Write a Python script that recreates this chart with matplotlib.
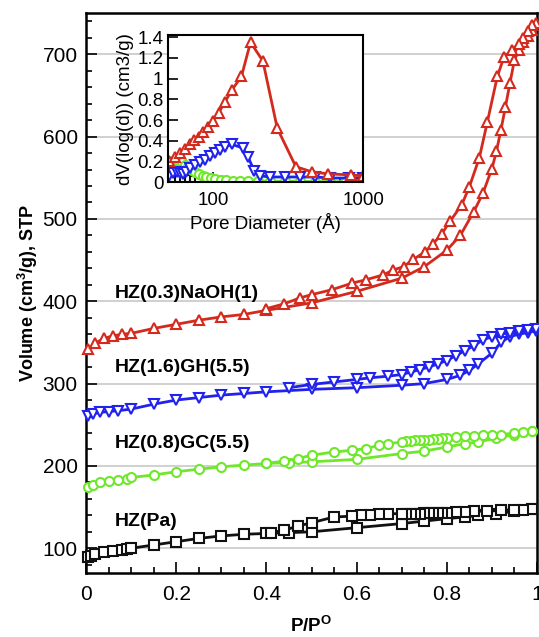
import matplotlib
matplotlib.use('Agg')
import matplotlib.pyplot as plt
from matplotlib.ticker import MultipleLocator

plt.rcParams['font.family'] = ['Liberation Sans', 'DejaVu Sans']

# isotherms (P/P0, volume cm3/g STP)
red_ads_x = [0.005, 0.02, 0.04, 0.06, 0.08, 0.10, 0.15, 0.20, 0.25, 0.30, 0.35, 0.40, 0.50,
             0.60, 0.70, 0.75, 0.80, 0.83, 0.86, 0.88, 0.90, 0.91, 0.92, 0.93, 0.94, 0.95,
             0.96, 0.97, 0.98, 0.99, 0.997]
red_ads_y = [342, 349, 355, 358, 360, 361, 367, 372, 377, 381, 384, 389, 398,
             412, 428, 442, 462, 480, 509, 531, 561, 582, 608, 636, 665, 693,
             705, 715, 722, 730, 738]
red_des_x = [0.99, 0.98, 0.97, 0.96, 0.945, 0.927, 0.912, 0.89, 0.872, 0.85, 0.833, 0.807,
             0.789, 0.77, 0.752, 0.726, 0.704, 0.681, 0.659, 0.62, 0.59, 0.545, 0.5, 0.474,
             0.44, 0.40]
red_des_y = [735, 728, 720, 713, 705, 697, 673, 618, 574, 539, 517, 497,
             482, 470, 460, 451, 442, 438, 432, 426, 422, 414, 408, 404,
             397, 391]

blue_ads_x = [0.005, 0.015, 0.03, 0.05, 0.07, 0.10, 0.15, 0.20, 0.25, 0.30, 0.35, 0.40, 0.50,
              0.60, 0.70, 0.75, 0.80, 0.83, 0.85, 0.87, 0.90, 0.92, 0.94, 0.96, 0.98, 0.997]
blue_ads_y = [261, 263, 265, 266, 267, 269, 275, 280, 283, 286, 288, 290, 293,
              295, 298, 300, 305, 310, 316, 324, 337, 350, 357, 360, 362, 364]
blue_des_x = [0.997, 0.98, 0.96, 0.94, 0.92, 0.90, 0.88, 0.86, 0.84, 0.82, 0.80, 0.78, 0.76,
              0.74, 0.72, 0.70, 0.67, 0.63, 0.60, 0.55, 0.50, 0.45]
blue_des_y = [366, 365, 364, 362, 360, 357, 353, 346, 340, 334, 328, 324, 320,
              317, 314, 311, 309, 307, 305, 302, 299, 295]

green_ads_x = [0.005, 0.015, 0.03, 0.05, 0.07, 0.09, 0.10, 0.15, 0.20, 0.25, 0.30, 0.35, 0.40,
               0.45, 0.50, 0.60, 0.70, 0.75, 0.80, 0.84, 0.87, 0.91, 0.95, 0.99]
green_ads_y = [175, 177, 180, 182, 183, 184, 186, 189, 193, 196, 199, 201, 203,
               204, 205, 208, 215, 218, 223, 227, 229, 234, 238, 242]
green_des_x = [0.99, 0.97, 0.95, 0.92, 0.90, 0.88, 0.86, 0.84, 0.82, 0.80, 0.79, 0.78, 0.77,
               0.76, 0.75, 0.74, 0.73, 0.72, 0.71, 0.70, 0.67, 0.65, 0.62, 0.59, 0.55, 0.50,
               0.47, 0.44, 0.40]
green_des_y = [242, 241, 240, 238, 237, 237, 236, 236, 235, 234, 234, 233, 233,
               232, 232, 231, 231, 230, 230, 229, 227, 225, 221, 219, 217, 213,
               209, 206, 203]

black_ads_x = [0.005, 0.01, 0.02, 0.04, 0.06, 0.08, 0.09, 0.10, 0.15, 0.20, 0.25, 0.30, 0.35,
               0.40, 0.45, 0.50, 0.60, 0.70, 0.75, 0.80, 0.84, 0.87, 0.91, 0.95, 0.99]
black_ads_y = [89, 91, 93, 95, 97, 98, 99, 100, 104, 108, 112, 115, 117,
               118, 119, 120, 125, 130, 133, 136, 138, 140, 142, 145, 148]
black_des_x = [0.99, 0.97, 0.95, 0.92, 0.89, 0.86, 0.84, 0.82, 0.80, 0.79, 0.78, 0.77, 0.76,
               0.75, 0.74, 0.73, 0.72, 0.71, 0.70, 0.67, 0.65, 0.63, 0.61, 0.59, 0.55, 0.50,
               0.47, 0.44, 0.41]
black_des_y = [148, 147, 147, 146, 145, 145, 144, 144, 143, 143, 143, 143, 143,
               143, 142, 142, 142, 142, 142, 142, 142, 141, 140, 139, 138, 131,
               127, 122, 119]

sample_names = ['HZ(0.3)NaOH(1)', 'HZ(1.6)GH(5.5)', 'HZ(0.8)GC(5.5)', 'HZ(Pa)']
label_pos = [(0.063, 410), (0.063, 320), (0.063, 227), (0.063, 132)]

# pore size distribution (inset)
red_d = [51, 55.6, 60, 65, 70, 74.8, 79.7, 86, 92, 99.5, 108.6, 119, 133, 154, 177,
         214, 267, 355, 453, 585, 829, 1000]
red_psd = [0.20, 0.24, 0.285, 0.32, 0.37, 0.41, 0.44, 0.48, 0.53, 0.59, 0.67, 0.77, 0.89,
           1.02, 1.35, 1.17, 0.52, 0.15, 0.10, 0.08, 0.07, 0.06]
blue_d = [51, 54, 57, 60, 63, 66, 70, 75.6, 82, 88, 95.5, 103, 111, 120, 133, 157, 171,
          187, 206, 240, 300, 380, 480, 600, 800, 1000]
blue_psd = [0.06, 0.09, 0.10, 0.09, 0.08, 0.10, 0.14, 0.17, 0.19, 0.21, 0.25, 0.28, 0.31,
            0.34, 0.365, 0.33, 0.24, 0.11, 0.06, 0.05, 0.05, 0.05, 0.05, 0.04, 0.04, 0.04]
green_d = [51, 53, 56, 59, 62, 65, 68, 72, 76, 80, 85, 90, 96, 103, 112, 122, 135, 150,
           170, 200, 240, 300, 380, 480, 600, 750, 950]
green_psd = [0.18, 0.20, 0.21, 0.20, 0.19, 0.17, 0.15, 0.12, 0.10, 0.08, 0.06, 0.05, 0.04,
             0.03, 0.02, 0.02, 0.015, 0.01, 0.01, 0.01, 0.01, 0.01, 0.01, 0.005, 0.005,
             0.005, 0.005]
black_d = [51, 55, 60, 65, 70, 76, 82, 90]
black_psd = [0.04, 0.05, 0.04, 0.03, 0.02, 0.01, 0.005, 0.0]

red = '#d42a1e'
blue = '#2222ee'
green = '#6fe82a'
black = '#111111'

fig = plt.figure(figsize=(5.39, 6.37), dpi=100)
ax = fig.add_axes([0.1596, 0.1005, 0.8367, 0.879])

ax.yaxis.grid(True, color='#c8c8c8', lw=1.2, zorder=0)
ax.set_axisbelow(True)

series = [
    (red_ads_x, red_ads_y, red_des_x, red_des_y, red, '^'),
    (blue_ads_x, blue_ads_y, blue_des_x, blue_des_y, blue, 'v'),
    (green_ads_x, green_ads_y, green_des_x, green_des_y, green, 'o'),
    (black_ads_x, black_ads_y, black_des_x, black_des_y, black, 's'),
]
for ax_x, ax_y, de_x, de_y, c, m in series:
    for xs, ys in ((ax_x, ax_y), (de_x, de_y)):
        ax.plot(xs, ys, color=c, lw=2, marker=m, ms=6.5, mfc='white', mec=c,
                mew=1.5, clip_on=False, zorder=3)

for name, (tx, ty) in zip(sample_names, label_pos):
    ax.text(tx, ty, name, fontsize=14, fontweight='bold', va='center', ha='left')

ax.set_xlim(0, 1)
ax.set_ylim(70, 750)
ax.xaxis.set_major_locator(MultipleLocator(0.2))
ax.xaxis.set_minor_locator(MultipleLocator(0.05))
ax.yaxis.set_major_locator(MultipleLocator(100))
ax.yaxis.set_minor_locator(MultipleLocator(20))
ax.set_xticks([0, 0.2, 0.4, 0.6, 0.8, 1.0])
ax.set_xticklabels(['0', '0.2', '0.4', '0.6', '0.8', '1'])
ax.tick_params(which='both', direction='in', top=False, right=False, labelsize=15,
               width=1.2)
ax.tick_params(which='major', length=8)
ax.tick_params(axis='x', which='major', pad=9)
ax.tick_params(axis='y', which='major', pad=6)
ax.tick_params(which='minor', length=4)
for s in ax.spines.values():
    s.set_linewidth(1.8)

ax.set_xlabel('P/P$^\\mathregular{O}$', fontsize=13.5, fontweight='bold')
ax.xaxis.set_label_coords(0.5, -0.076)
ax.set_ylabel('Volume (cm$^\\mathregular{3}$/g), STP', fontsize=13, fontweight='bold')
ax.yaxis.set_label_coords(-0.128, 0.5)
ax.yaxis.label.set_va('center')

# inset
ins = fig.add_axes([0.312, 0.714, 0.362, 0.231])
ins.set_facecolor('white')
psd = [
    (red_d, red_psd, red, '^'),
    (blue_d, blue_psd, blue, 'v'),
    (green_d, green_psd, green, 'o'),
    (black_d, black_psd, black, 's'),
]
for xs, ys, c, m in psd[::-1]:
    ins.plot(xs, ys, color=c, lw=2, marker=m, ms=6.5, mfc='white', mec=c, mew=1.5)
ins.set_xscale('log')
ins.set_xlim(50, 1000)
ins.set_ylim(0, 1.42)
ins.set_yticks([0, 0.2, 0.4, 0.6, 0.8, 1.0, 1.2, 1.4])
ins.set_yticklabels(['0', '0.2', '0.4', '0.6', '0.8', '1', '1.2', '1.4'])
ins.set_xticks([100, 1000])
ins.set_xticklabels(['100', '1000'])
ins.tick_params(which='both', direction='in', labelsize=13.5, width=1.2)
ins.tick_params(which='major', length=7)
ins.tick_params(axis='x', which='major', pad=7)
ins.tick_params(which='minor', length=3)
for s in ins.spines.values():
    s.set_linewidth(1.5)
ins.set_xlabel('Pore Diameter (Å)', fontsize=13.5, labelpad=3)
ins.set_ylabel('dV(log(d)) (cm3/g)', fontsize=13.5, labelpad=2)

fig.savefig('out.png', dpi=100)
